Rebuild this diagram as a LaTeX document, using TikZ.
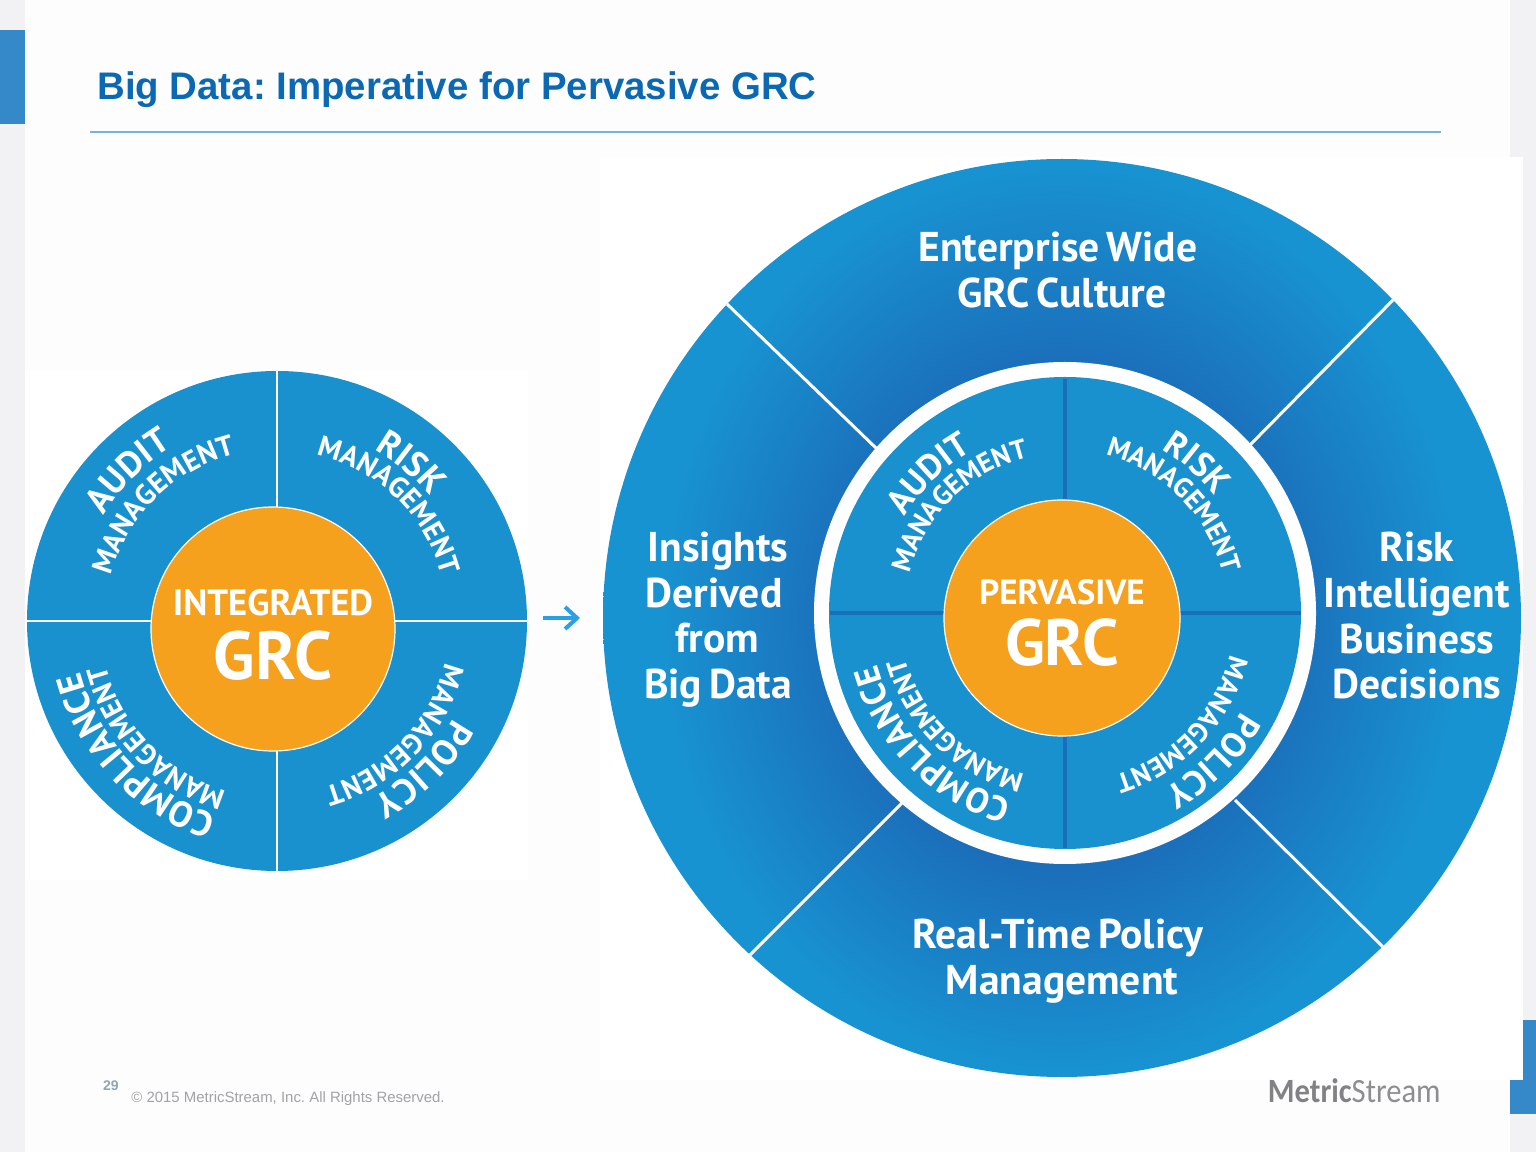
\documentclass[tikz,border=0pt]{standalone}
\usepackage{fontspec}
\usetikzlibrary{decorations.text,arrows.meta,calc}
\setmainfont{Liberation Sans}
\newfontfamily\ptfam{PT Sans}
\newfontfamily\carfam{Carlito}
\definecolor{slidebg}{HTML}{FDFDFE}
\definecolor{stripbg}{HTML}{F2F2F4}
\definecolor{tabblue}{HTML}{3589C9}
\definecolor{titleblue}{HTML}{0B69B4}
\definecolor{rulecol}{HTML}{78B2DA}
\definecolor{diskblue}{HTML}{1991CE}
\definecolor{deepblue}{HTML}{1B6EBA}
\definecolor{rimblue}{HTML}{1893D1}
\definecolor{dividerblue}{HTML}{1B6EBB}
\definecolor{grcorange}{HTML}{F5A11E}
\definecolor{arrowblue}{HTML}{2A9FE3}
\definecolor{pagenum}{HTML}{8FA6B5}
\definecolor{copygrey}{HTML}{A2A2A6}
\definecolor{logogrey}{HTML}{808285}
\definecolor{logolight}{HTML}{8E8E92}
\pgfdeclareradialshading{bigring}{\pgfpointorigin}{color(0bp)=(deepblue); color(12bp)=(deepblue); color(22bp)=(rimblue); color(50bp)=(rimblue)}
\newcommand\fsz[1]{\fontsize{#1}{#1}\selectfont}
\newcommand\lmg{\ptfam\bfseries\fsz{14.4}}
\newcommand\lbig{\ptfam\bfseries\fsz{18}}
\newcommand\rmg{\ptfam\bfseries\fsz{13.8}}
\newcommand\rbig{\ptfam\bfseries\fsz{17.5}}
\newcommand\ringlabel[5]{%
  \path[decorate,decoration={text along path,text align=center,text color=white,text={|#4|#5}}]
    (#1) ++({#3+75}:#2) arc[start angle={#3+75},end angle={#3-75},radius=#2];}
\newcommand\tightwords[1]{{\spaceskip=0.17em\relax #1}}
\tikzset{
  bigtext/.style={anchor=base,inner sep=0pt,text=white,font=\ptfam\bfseries\fsz{20.8}},
  spoke/.style={draw=white,line width=1.5pt},
  thinline/.style={draw=white,line width=1pt},
  divider/.style={draw=dividerblue,line width=1.8pt},
  hub/.style={fill=grcorange,draw=white,line width=0.6pt}
}
\begin{document}
\frenchspacing
\begin{tikzpicture}[x=0.5pt,y=0.5pt]
\useasboundingbox (0,0) rectangle (1536,1152);
% background
\fill[slidebg] (0,0) rectangle (1536,1152);
\fill[stripbg] (0,0) rectangle (25,1152);
\fill[stripbg] (1510,995) rectangle (1536,1152);
\fill[stripbg] (1510,0) rectangle (1536,38);
\fill[stripbg] (1523,38) rectangle (1536,995);
\fill[white] (600,72) rectangle (1523,995);
\fill[white] (25,272) rectangle (528,781);
\fill[tabblue] (0,1028) rectangle (25,1122);
\fill[tabblue] (1523,72) rectangle (1536,132);
\fill[tabblue] (1510,38) rectangle (1536,72);
% title
\node[anchor=base west,inner sep=0pt,text=titleblue,font=\bfseries\fsz{19.2}] (title) at (97,1052) {Big Data: Imperative for Pervasive GRC};
\coordinate (ruleA) at (90,1020);
\coordinate (ruleB) at (1441,1020);
\draw[rulecol,line width=1pt] (ruleA) -- (ruleB);
% centres
\coordinate (L) at (277,531);
\coordinate (Lo) at (273,523);
\coordinate (B) at (1062,534);
\coordinate (R) at (1065,539);
\coordinate (Ro) at (1062,534);
% left wheel
\fill[diskblue] (L) circle[radius=250];
\draw[thinline] (277,281) -- (277,781);
\draw[thinline] (27,531) -- (527,531);
\path[hub] (Lo) circle[radius=122];
\node[anchor=base,inner sep=0pt,text=white,font=\ptfam\bfseries\fsz{18.3}] (integrated) at (273,536) {INTEGRATED};
\node[anchor=base,inner sep=0pt,text=white,font=\ptfam\bfseries\fsz{34}] (grcl) at (273,472) {GRC};
\ringlabel{L}{203}{134.8}{\lbig}{AUDIT}
\ringlabel{L}{172}{134.4}{\lmg}{MANAGEMENT}
\ringlabel{L}{197}{49.8}{\lbig}{RISK}
\ringlabel{L}{171}{46}{\lmg}{MANAGEMENT}
\ringlabel{L}{203}{223.6}{\lbig}{COMPLIANCE}
\ringlabel{L}{177}{224}{\lmg}{MANAGEMENT}
\ringlabel{L}{201}{-45.3}{\lbig}{POLICY}
\ringlabel{L}{173}{-44}{\lmg}{MANAGEMENT}
% arrow
\coordinate (arrowA) at (543,534);
\coordinate (arrowB) at (580,534);
\draw[arrowblue,line width=2pt,-{Straight Barb[length=6pt,width=11pt]}] (arrowA) -- (arrowB);
% right wheel
\begin{scope}
\clip (B) circle[radius=459];
\shade[shading=bigring] (603,14) rectangle (1521,1054);
\end{scope}
\draw[spoke] (727,848) -- (877,703);
\draw[spoke] (1393,852) -- (1250,707);
\draw[spoke] (750,197) -- (902,349);
\draw[spoke] (1383,205) -- (1235,352);
\fill[white] (R) circle[radius=251];
\fill[diskblue] (R) circle[radius=236];
\draw[divider] (1065,304) -- (1065,773);
\draw[divider] (830,539) -- (1301,539);
\path[hub] (Ro) circle[radius=118];
\node[anchor=base,inner sep=0pt,text=white,font=\ptfam\bfseries\fsz{17.5}] (pervasive) at (1062,547) {PERVASIVE};
\node[anchor=base,inner sep=0pt,text=white,font=\ptfam\bfseries\fsz{32.8}] (grcr) at (1062,486) {GRC};
\ringlabel{R}{187}{134.4}{\rbig}{AUDIT}
\ringlabel{R}{160}{134.5}{\rmg}{MANAGEMENT}
\ringlabel{R}{190}{48.7}{\rbig}{RISK}
\ringlabel{R}{163}{44.8}{\rmg}{MANAGEMENT}
\ringlabel{R}{195}{224.7}{\rbig}{COMPLIANCE}
\ringlabel{R}{166}{225.7}{\rmg}{MANAGEMENT}
\ringlabel{R}{202}{-45}{\rbig}{POLICY}
\ringlabel{R}{170}{-43.6}{\rmg}{MANAGEMENT}
% outer labels
\node[bigtext] (ent1) at (1058,890) {\tightwords{Enterprise Wide}};
\node[bigtext] (ent2) at (1062,844) {\tightwords{GRC Culture}};
\node[bigtext] (ins1) at (718,590) {Insights};
\node[bigtext] (ins2) at (714,544) {Derived};
\node[bigtext] (ins3) at (717,499) {from};
\node[bigtext] (ins4) at (718,453) {\tightwords{Big Data}};
\node[bigtext] (rsk1) at (1417,590) {Risk};
\node[bigtext] (rsk2) at (1417,544) {Intelligent};
\node[bigtext] (rsk3) at (1417,498) {Business};
\node[bigtext] (rsk4) at (1417,453) {Decisions};
\node[bigtext] (rtp1) at (1058,204) {\tightwords{Real-Time Policy}};
\node[bigtext] (rtp2) at (1062,158) {Management};
% footer
\node[anchor=base,inner sep=0pt,text=pagenum,font=\bfseries\fsz{7}] (page) at (111,62) {29};
\node[anchor=base west,inner sep=0pt,text=copygrey,font=\fsz{7.47}] (copy) at (131,50) {© 2015 MetricStream, Inc. All Rights Reserved.};
\node[anchor=base east,inner sep=0pt,text=logogrey,font=\carfam\fsz{17}] (logo) at (1441,50) {\scalebox{0.9}[1]{\textbf{Metric}\textcolor{logolight}{Stream}}};
\end{tikzpicture}
\end{document}
